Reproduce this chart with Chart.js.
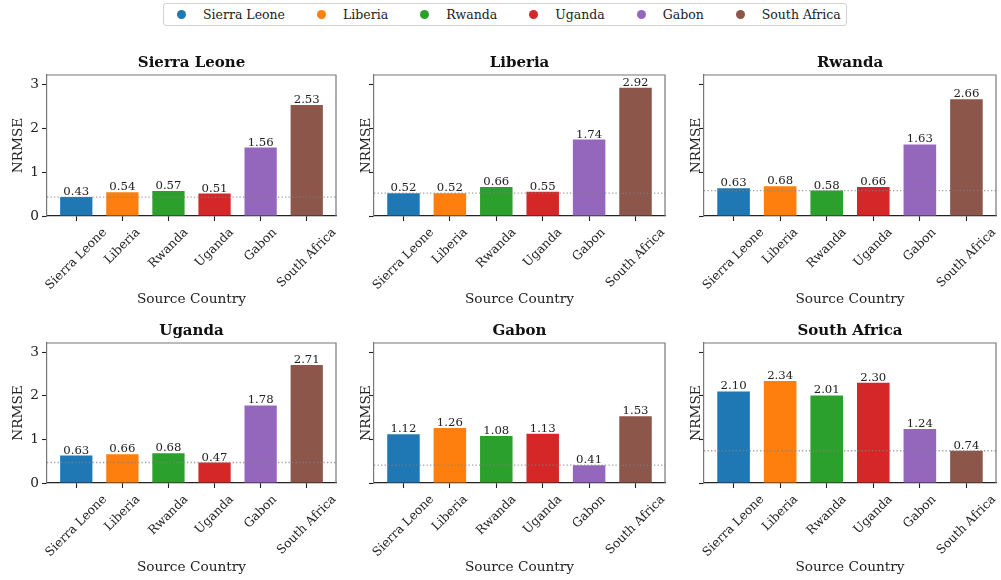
<!DOCTYPE html>
<html>
<head>
<meta charset="utf-8">
<title>NRMSE by source and target country</title>
<script src="https://cdn.jsdelivr.net/npm/chart.js@4.4.1/dist/chart.umd.min.js"></script>
<style>
  html, body { margin: 0; padding: 0; background: #fff; }
  body { width: 1001px; height: 580px; position: relative; overflow: hidden;
         font-family: 'DejaVu Serif', serif; color: #222; }
  canvas.panel { position: absolute; }
  #legend { position: absolute; left: 163px; top: 3px; height: 21px;
            border: 1px solid #d2d2d2; border-radius: 3px; background: #fff;
            display: flex; align-items: center; padding: 0 5px 0 13px; gap: 32px;
            font-size: 12.5px; }
  #legend .item { display: flex; align-items: center; white-space: nowrap; }
  #legend .dot { width: 9px; height: 9px; border-radius: 50%; margin-right: 17px; }
</style>
</head>
<body>
<div id="legend"></div>
<script>
// Countries used both as training source (x axis) and as evaluation target (one panel each)
const countries = ['Sierra Leone', 'Liberia', 'Rwanda', 'Uganda', 'Gabon', 'South Africa'];
const colors = ['#1f77b4', '#ff7f0e', '#2ca02c', '#d62728', '#9467bd', '#8c564b'];

// NRMSE on each target country, one value per source country
const sierraLeone = [0.43, 0.54, 0.57, 0.51, 1.56, 2.53];
const liberia     = [0.52, 0.52, 0.66, 0.55, 1.74, 2.92];
const rwanda      = [0.63, 0.68, 0.58, 0.66, 1.63, 2.66];
const uganda      = [0.63, 0.66, 0.68, 0.47, 1.78, 2.71];
const gabon       = [1.12, 1.26, 1.08, 1.13, 0.41, 1.53];
const southAfrica = [2.10, 2.34, 2.01, 2.30, 1.24, 0.74];

const yTicks = [0, 1, 2, 3];

const panels = [
  { title: 'Sierra Leone', values: sierraLeone },
  { title: 'Liberia',      values: liberia },
  { title: 'Rwanda',       values: rwanda },
  { title: 'Uganda',       values: uganda },
  { title: 'Gabon',        values: gabon },
  { title: 'South Africa', values: southAfrica }
];

// shared y range with 10% headroom over the largest bar
const yMax = Math.max(...panels.flatMap(p => p.values)) * 1.1;

// grid geometry (pixels)
const colLeft  = [47, 374, 704];
const colRight = [336, 665, 996];
const rowTop    = [75, 343];
const rowBottom = [216, 483];
const yTitleX = [18, 366, 696];
const xTitleY = [300, 568];

const FONT = "'DejaVu Serif', serif";
Chart.defaults.font.family = FONT;
Chart.defaults.color = '#222';

// legend
const legend = document.getElementById('legend');
countries.forEach((name, i) => {
  const item = document.createElement('div');
  item.className = 'item';
  const dot = document.createElement('span');
  dot.className = 'dot';
  dot.style.background = colors[i];
  const txt = document.createElement('span');
  txt.textContent = name;
  item.appendChild(dot);
  item.appendChild(txt);
  legend.appendChild(item);
});

// panel title, frame, own-country reference line, value labels and rotated category labels
const decorations = {
  id: 'decorations',
  afterDatasetsDraw(chart, args, opts) {
    const { ctx, chartArea: a } = chart;
    const ys = chart.scales.y;
    const xs = chart.scales.x;
    ctx.save();
    // dotted reference at the in-country value
    const yRef = ys.getPixelForValue(opts.reference);
    ctx.strokeStyle = 'rgba(128,128,128,0.75)';
    ctx.lineWidth = 1.3;
    ctx.setLineDash([1.3, 2.2]);
    ctx.beginPath();
    ctx.moveTo(a.left, yRef);
    ctx.lineTo(a.right, yRef);
    ctx.stroke();
    ctx.setLineDash([]);
    // value labels
    const meta = chart.getDatasetMeta(0);
    ctx.fillStyle = '#222';
    ctx.font = '11.7px ' + FONT;
    ctx.textAlign = 'center';
    ctx.textBaseline = 'alphabetic';
    meta.data.forEach((bar, i) => {
      const v = chart.data.datasets[0].data[i].y;
      ctx.fillText(v.toFixed(2), bar.x, bar.y - 2);
    });
    // top and right spines
    ctx.strokeStyle = '#777';
    ctx.lineWidth = 1.2;
    ctx.beginPath();
    ctx.moveTo(a.left, a.top);
    ctx.lineTo(a.right, a.top);
    ctx.lineTo(a.right, a.bottom);
    ctx.stroke();
    // title centred over the plot area
    ctx.fillStyle = '#111';
    ctx.font = 'bold 15px ' + FONT;
    ctx.textAlign = 'center';
    ctx.textBaseline = 'middle';
    ctx.fillText(opts.title, (a.left + a.right) / 2, a.top - 11.5);
    // category labels, rotated 45 degrees and centred under each tick
    ctx.fillStyle = '#222';
    ctx.font = '12.3px ' + FONT;
    const y0 = a.bottom + 5 + 4.5;
    countries.forEach((name, i) => {
      const px = xs.getPixelForValue(i);
      const L = ctx.measureText(name).width;
      const H = 12.3 * 1.17;
      const d = (L + H) * Math.SQRT1_2;
      ctx.save();
      ctx.translate(px, y0 + d / 2);
      ctx.rotate(-Math.PI / 4);
      ctx.fillText(name, 0, 0);
      ctx.restore();
    });
    ctx.restore();
  }
};

panels.forEach((p, k) => {
  const r = Math.floor(k / 3), c = k % 3;
  const left = c === 0 ? 0 : colLeft[c] - 30;
  const top = rowTop[r] - 25;
  const yw = colLeft[c] - left;
  const padRight = 3;
  const width = colRight[c] - left + padRight;
  const height = Math.round(xTitleY[r] + 8.2 - top);
  const xh = height - (rowBottom[r] - top);

  const canvas = document.createElement('canvas');
  canvas.className = 'panel';
  canvas.width = width;
  canvas.height = height;
  canvas.style.left = left + 'px';
  canvas.style.top = top + 'px';
  canvas.style.width = width + 'px';
  canvas.style.height = height + 'px';
  document.body.appendChild(canvas);

  new Chart(canvas, {
    type: 'bar',
    data: {
      datasets: [{
        data: p.values.map((v, i) => ({ x: i, y: v })),
        backgroundColor: colors,
        borderWidth: 0,
        barPercentage: 0.7,
        categoryPercentage: 1.0
      }]
    },
    options: {
      responsive: false,
      devicePixelRatio: 1,
      animation: false,
      events: [],
      layout: { padding: { top: 25, right: padRight, left: 0, bottom: 0 } },
      plugins: {
        legend: { display: false },
        tooltip: { enabled: false },
        title: { display: false },
        decorations: { reference: p.values[k], title: p.title }
      },
      scales: {
        x: {
          type: 'linear',
          offset: false,
          min: -0.635,
          max: 5.635,
          afterBuildTicks: s => { s.ticks = countries.map((_, i) => ({ value: i })); },
          afterFit: s => { s.height = xh; },
          ticks: { display: false },
          grid: { display: true, drawOnChartArea: false, drawTicks: true, offset: false,
                  tickLength: 5, tickColor: '#222', tickWidth: 1.1 },
          border: { display: true, color: '#222', width: 1.3 },
          title: { display: true, text: 'Source Country', color: '#222',
                   font: { size: 13.7, family: FONT, lineHeight: 1.2 },
                   padding: { top: 0, bottom: 0 } }
        },
        y: {
          min: 0,
          max: yMax,
          afterBuildTicks: s => { s.ticks = yTicks.map(v => ({ value: v })); },
          afterFit: s => { s.width = yw; },
          ticks: { display: c === 0, color: '#222', padding: 3,
                   font: { size: 13.7, family: FONT } },
          grid: { display: true, drawOnChartArea: false, drawTicks: true,
                  tickLength: 5, tickColor: '#222', tickWidth: 1.1 },
          border: { display: true, color: '#777', width: 1.2 },
          title: { display: true, text: 'NRMSE', color: '#222',
                   font: { size: 13.7, family: FONT, lineHeight: 1.2 },
                   padding: { top: yTitleX[c] - left - 8.2, bottom: 0 } }
        }
      }
    },
    plugins: [decorations]
  });
});
</script>
</body>
</html>
